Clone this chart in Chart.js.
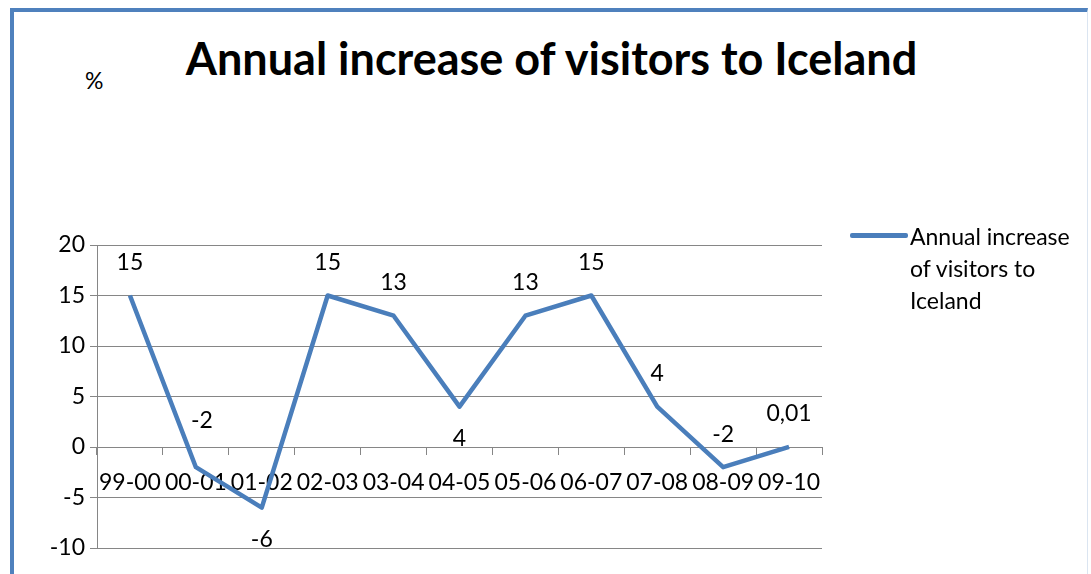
<!DOCTYPE html>
<html>
<head>
<meta charset="utf-8">
<script src="https://cdn.jsdelivr.net/npm/chart.js@4.4.1/dist/chart.umd.min.js"></script>
<style>
  html, body { margin: 0; padding: 0; background: #fff; }
  #wrap { position: relative; width: 1091px; height: 574px; overflow: hidden; font-family: Lato, sans-serif; color: #000; }
  #frame { position: absolute; left: 10px; top: 8px; width: 1078px; height: 580px; border-top: 4px solid #4f81bd; border-left: 4px solid #4f81bd; border-right: 1px solid #dbe5f1; box-sizing: border-box; }
  #title { position: absolute; left: 0; width: 1103px; top: 31px; text-align: center; font-weight: bold; font-size: 45px; }
  #unit { position: absolute; left: 85px; top: 66px; font-size: 23px; }
  #legend { position: absolute; left: 850px; top: 220px; }
  #legend .swatch { position: absolute; left: 0; top: 13px; width: 58px; height: 5px; background: #4a7ebb; border-radius: 2px; }
  #legend .text { position: absolute; left: 60px; top: 0; width: 200px; font-size: 23px; line-height: 32px; }
  canvas { position: absolute; left: 0; top: 0; }
</style>
</head>
<body>
<div id="wrap">
  <div id="frame"></div>
  <div id="title">Annual increase of visitors to Iceland</div>
  <div id="unit">%</div>
  <canvas id="chart" width="1091" height="574"></canvas>
  <div id="legend"><div class="swatch"></div><div class="text">Annual increase<br>of visitors to<br>Iceland</div></div>
</div>
<script>
const seasons = ['99-00', '00-01', '01-02', '02-03', '03-04', '04-05', '05-06', '06-07', '07-08', '08-09', '09-10'];
const increase = [15, -2, -6, 15, 13, 4, 13, 15, 4, -2, 0.01];
const yTicks = [-10, -5, 0, 5, 10, 15, 20];

const gridGray = '#868686';
const lineBlue = '#4a7ebb';

// value labels: above the point, except the two dips that get theirs underneath
const pointLabels = {
  id: 'pointLabels',
  afterDatasetsDraw(chart, args, opts) {
    const ctx = chart.ctx;
    const meta = chart.getDatasetMeta(0);
    ctx.save();
    ctx.font = '23px Lato, sans-serif';
    ctx.fillStyle = '#000';
    ctx.textAlign = 'center';
    ctx.textBaseline = 'middle';
    meta.data.forEach((pt, i) => {
      const txt = String(increase[i]).replace('.', ',');
      let dy = opts.below.includes(i) ? 32 : -33;
      if (opts.lifted.includes(i)) dy -= 14;
      ctx.fillText(txt, pt.x + (opts.lifted.includes(i) ? 6 : 0), pt.y + dy);
    });
    ctx.restore();
  }
};

new Chart(document.getElementById('chart'), {
  type: 'line',
  data: {
    labels: seasons,
    datasets: [{
      label: 'Annual increase of visitors to Iceland',
      data: increase,
      borderColor: lineBlue,
      borderWidth: 4.5,
      pointRadius: 0,
      tension: 0,
      borderJoinStyle: 'round'
    }]
  },
  options: {
    responsive: false,
    animation: false,
    layout: { padding: { left: 0, top: 245, right: 269, bottom: 26 } },
    plugins: {
      legend: { display: false },
      tooltip: { enabled: false },
      pointLabels: { below: [2, 5], lifted: [1] }
    },
    scales: {
      x: {
        position: { y: 0 },
        offset: true,
        afterFit: s => { s.height = 0; },
        grid: { offset: true, drawOnChartArea: false, tickLength: 7, color: gridGray, lineWidth: 1 },
        border: { color: gridGray },
        ticks: { color: '#000', font: { family: 'Lato', size: 23 }, maxRotation: 0, autoSkip: false, padding: 15 }
      },
      y: {
        min: -10,
        max: 20,
        afterFit: s => { s.width = 97; },
        afterBuildTicks: s => { s.ticks = yTicks.map(v => ({ value: v })); },
        grid: { color: gridGray, tickLength: 7, lineWidth: 1 },
        border: { color: gridGray },
        ticks: { color: '#000', font: { family: 'Lato', size: 23 }, padding: 5 }
      }
    }
  },
  plugins: [pointLabels]
});
</script>
</body>
</html>
